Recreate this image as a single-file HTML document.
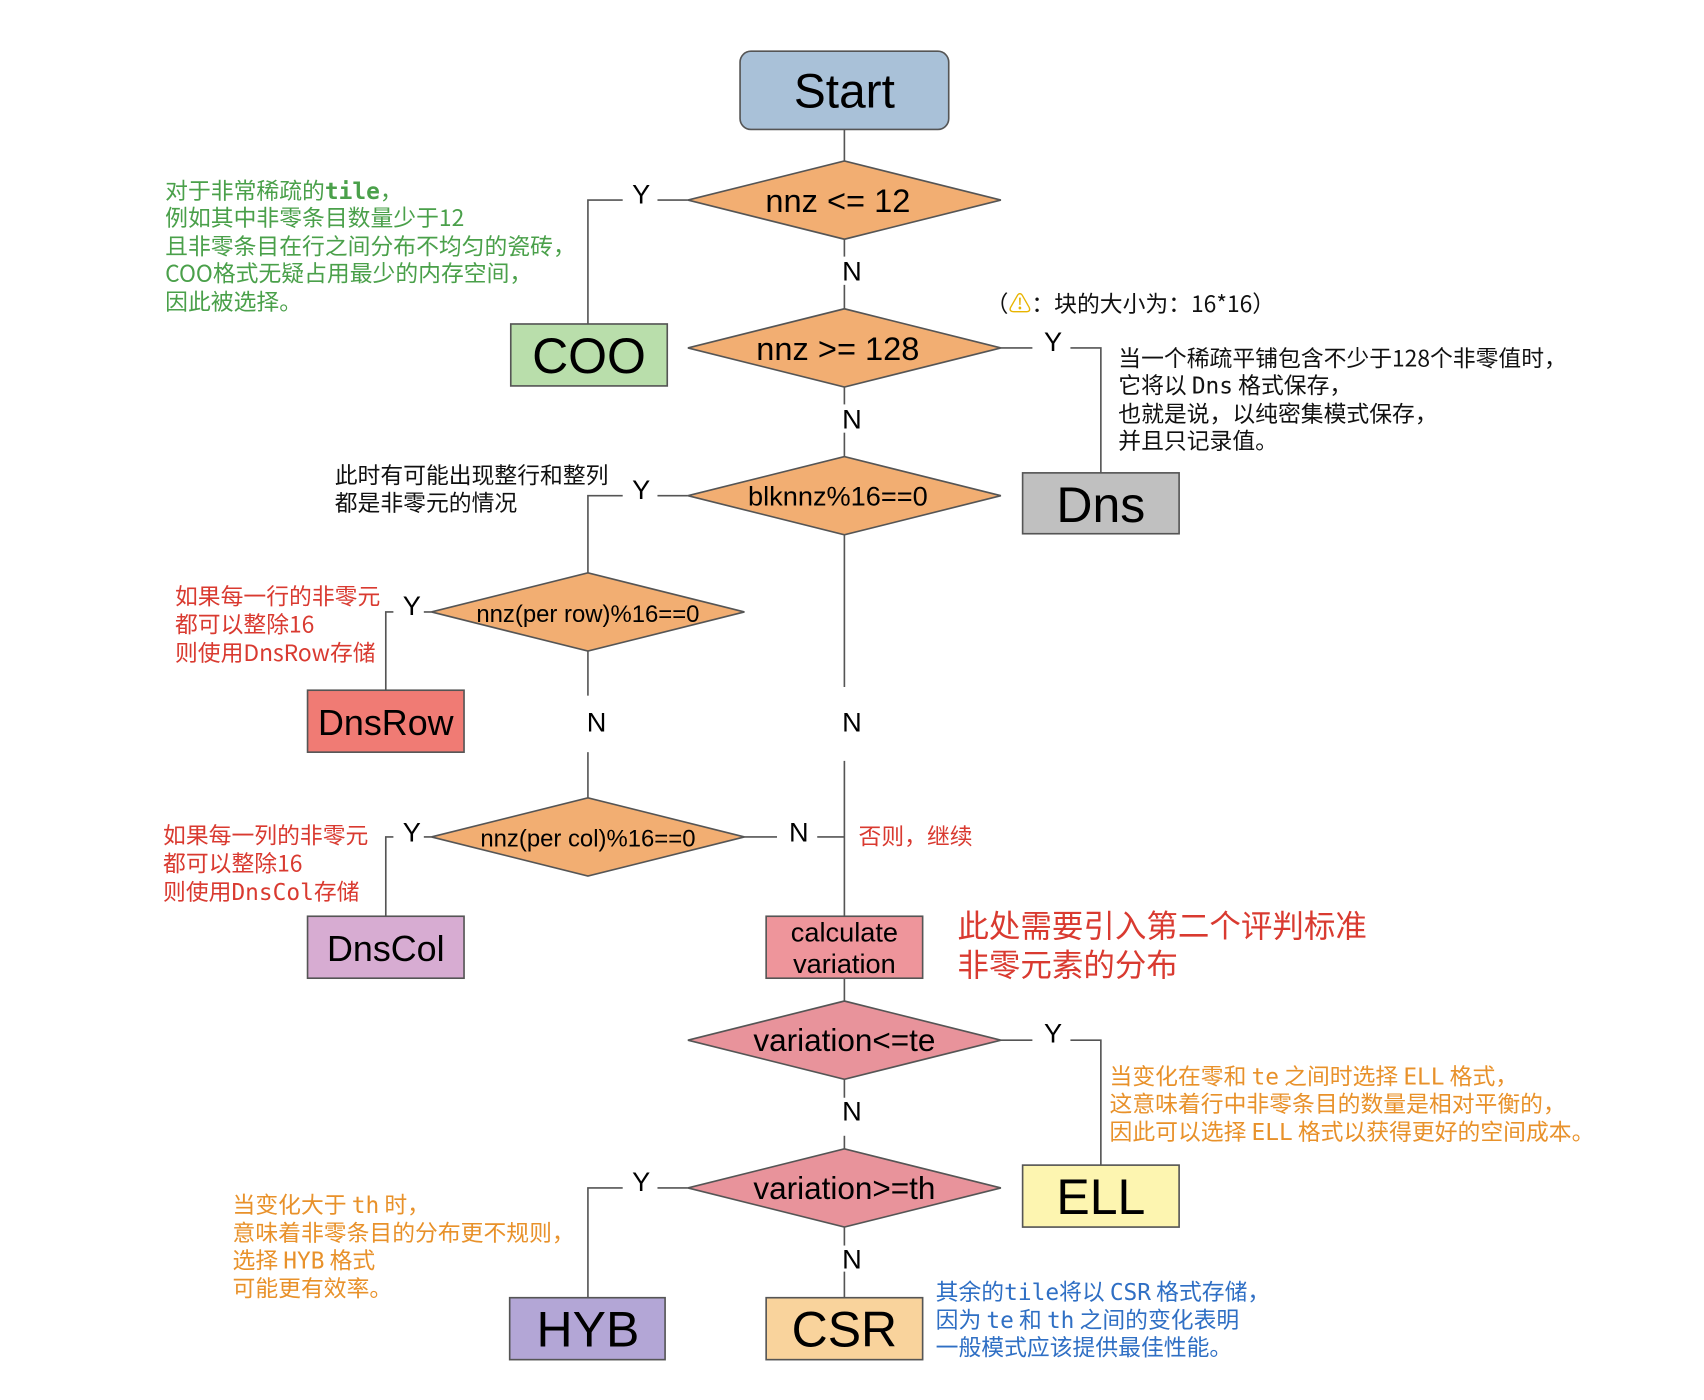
<!DOCTYPE html>
<html><head><meta charset="utf-8"><style>
html,body{margin:0;padding:0;background:#fff;}
svg{display:block;}
.n{font-family:"Liberation Sans",sans-serif;fill:#000;}
.t{font-family:"Noto Sans CJK SC","WenQuanYi Zen Hei",sans-serif;font-size:21px;}
.m{font-family:"DejaVu Sans Mono","Liberation Mono",monospace;}
.ln{stroke:#555;stroke-width:1.5;fill:none;}
.bx{stroke:#555;stroke-width:1.5;}
</style></head><body>
<svg width="1704" height="1400" viewBox="0 0 1568 1288" xmlns="http://www.w3.org/2000/svg" xml:space="preserve">
<g class="ln">
<line x1="777" y1="119" x2="777" y2="148"/>
<line x1="777" y1="220" x2="777" y2="236"/><line x1="777" y1="262" x2="777" y2="284"/>
<line x1="777" y1="356" x2="777" y2="372"/><line x1="777" y1="398" x2="777" y2="420"/>
<polyline points="633,184 605,184"/><polyline points="573,184 541,184 541,298"/>
<polyline points="921,320 950,320"/><polyline points="985,320 1013,320 1013,435"/>
<polyline points="633,456 605,456"/><polyline points="573,456 541,456 541,527"/>
<line x1="541" y1="599" x2="541" y2="640"/><line x1="541" y1="692" x2="541" y2="734"/>
<line x1="777" y1="492" x2="777" y2="632"/><line x1="777" y1="700" x2="777" y2="843"/>
<polyline points="685,770 715,770"/><polyline points="752,770 777,770"/>
<polyline points="397,563 390,563"/><polyline points="362,563 355,563 355,635"/>
<polyline points="397,770 390,770"/><polyline points="362,770 355,770 355,843"/>
<line x1="777" y1="900" x2="777" y2="921"/>
<polyline points="921,957 950,957"/><polyline points="985,957 1013,957 1013,1072"/>
<line x1="777" y1="993" x2="777" y2="1010"/><line x1="777" y1="1045" x2="777" y2="1057"/>
<polyline points="633,1093 605,1093"/><polyline points="573,1093 541,1093 541,1194"/>
<line x1="777" y1="1129" x2="777" y2="1146"/><line x1="777" y1="1170" x2="777" y2="1194"/>
</g>
<rect x="681" y="47" width="192" height="72" rx="10" fill="#a9c1d8" class="bx"/>
<text x="777" y="99" font-size="44" text-anchor="middle" class="n">Start</text>
<g class="bx">
<polygon points="633,184 777,148 921,184 777,220" fill="#f2ae72"/>
<polygon points="633,320 777,284 921,320 777,356" fill="#f2ae72"/>
<polygon points="633,456 777,420 921,456 777,492" fill="#f2ae72"/>
<polygon points="397,563 541,527 685,563 541,599" fill="#f2ae72"/>
<polygon points="397,770 541,734 685,770 541,806" fill="#f2ae72"/>
<polygon points="633,957 777,921 921,957 777,993" fill="#e8939b"/>
<polygon points="633,1093 777,1057 921,1093 777,1129" fill="#e8939b"/>
</g>
<g class="n" text-anchor="middle">
<text x="771" y="195" font-size="30">nnz &lt;= 12</text>
<text x="771" y="331" font-size="30">nnz &gt;= 128</text>
<text x="771" y="465" font-size="25">blknnz%16==0</text>
<text x="541" y="572" font-size="22">nnz(per row)%16==0</text>
<text x="541" y="779" font-size="22">nnz(per col)%16==0</text>
<text x="777" y="967" font-size="29">variation&lt;=te</text>
<text x="777" y="1103" font-size="29">variation&gt;=th</text>
</g>
<g class="bx">
<rect x="470" y="298" width="144" height="57" fill="#b9deab"/>
<rect x="941" y="435" width="144" height="56" fill="#c0c0c0"/>
<rect x="283" y="635" width="144" height="57" fill="#f07b74"/>
<rect x="283" y="843" width="144" height="57" fill="#d7acd2"/>
<rect x="705" y="843" width="144" height="57" fill="#ee959b"/>
<rect x="941" y="1072" width="144" height="57" fill="#fdf5b0"/>
<rect x="469" y="1194" width="143" height="57" fill="#b3a6d6"/>
<rect x="705" y="1194" width="144" height="57" fill="#f9d39c"/>
</g>
<g class="n" text-anchor="middle">
<text x="542" y="343" font-size="46">COO</text>
<text x="1013" y="480" font-size="46">Dns</text>
<text x="355" y="676" font-size="33">DnsRow</text>
<text x="355" y="884" font-size="33">DnsCol</text>
<text x="777" y="866" font-size="25">calculate</text>
<text x="777" y="895" font-size="25">variation</text>
<text x="1013" y="1117" font-size="46">ELL</text>
<text x="541" y="1239" font-size="46">HYB</text>
<text x="777" y="1239" font-size="46">CSR</text>
</g>
<g class="n" font-size="25" text-anchor="middle">
<text x="590" y="187">Y</text>
<text x="784" y="258">N</text>
<text x="969" y="323">Y</text>
<text x="784" y="394">N</text>
<text x="590" y="459">Y</text>
<text x="379" y="566">Y</text>
<text x="549" y="673">N</text>
<text x="784" y="673">N</text>
<text x="379" y="774">Y</text>
<text x="735" y="774">N</text>
<text x="969" y="959">Y</text>
<text x="784" y="1031">N</text>
<text x="590" y="1096">Y</text>
<text x="784" y="1167">N</text>
</g>
<g class="t" fill="#4aa04a">
<text x="152" y="183">对于非常稀疏的<tspan class="m" font-weight="bold">tile</tspan>，</text>
<text x="152" y="208">例如其中非零条目数量少于12</text>
<text x="152" y="234">且非零条目在行之间分布不均匀的瓷砖，</text>
<text x="152" y="259">COO格式无疑占用最少的内存空间，</text>
<text x="152" y="285">因此被选择。</text>
</g>
<g class="t" fill="#111">
<text x="907" y="287">（<tspan fill="#e8b400">⚠</tspan>：块的大小为：16*16）</text>
<text x="1029" y="337">当一个稀疏平铺包含不少于128个非零值时，</text>
<text x="1029" y="362">它将以  <tspan class="m">Dns</tspan>  格式保存，</text>
<text x="1029" y="388">也就是说，以纯密集模式保存，</text>
<text x="1029" y="413">并且只记录值。</text>
<text x="308" y="445">此时有可能出现整行和整列</text>
<text x="308" y="470">都是非零元的情况</text>
</g>
<g class="t" fill="#d93a30">
<text x="161" y="556">如果每一行的非零元</text>
<text x="161" y="582">都可以整除16</text>
<text x="161" y="608">则使用DnsRow存储</text>
<text x="150" y="776">如果每一列的非零元</text>
<text x="150" y="802">都可以整除16</text>
<text x="150" y="828">则使用<tspan class="m">DnsCol</tspan>存储</text>
<text x="790" y="777">否则，继续</text>
<text x="881" y="862" font-size="29">此处需要引入第二个评判标准</text>
<text x="881" y="898" font-size="29">非零元素的分布</text>
</g>
<g class="t" fill="#e8912a">
<text x="1021" y="998">当变化在零和 <tspan class="m">te</tspan> 之间时选择 <tspan class="m">ELL</tspan> 格式，</text>
<text x="1021" y="1023">这意味着行中非零条目的数量是相对平衡的，</text>
<text x="1021" y="1049">因此可以选择 <tspan class="m">ELL</tspan> 格式以获得更好的空间成本。</text>
<text x="214" y="1116">当变化大于 <tspan class="m">th</tspan> 时，</text>
<text x="214" y="1142">意味着非零条目的分布更不规则，</text>
<text x="214" y="1167">选择 <tspan class="m">HYB</tspan> 格式</text>
<text x="214" y="1193">可能更有效率。</text>
</g>
<g class="t" fill="#2f6fc4">
<text x="861" y="1196">其余的<tspan class="m">tile</tspan>将以 <tspan class="m">CSR</tspan> 格式存储，</text>
<text x="861" y="1222">因为 <tspan class="m">te</tspan> 和 <tspan class="m">th</tspan> 之间的变化表明</text>
<text x="861" y="1247">一般模式应该提供最佳性能。</text>
</g>
</svg>
</body></html>
